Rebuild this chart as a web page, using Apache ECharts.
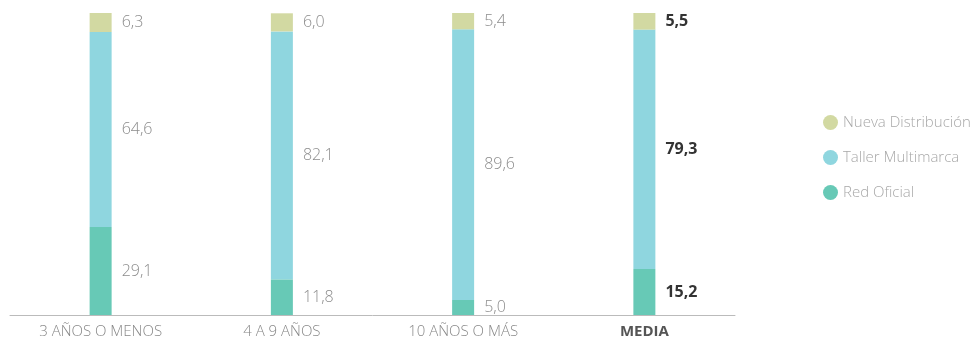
<!DOCTYPE html>
<html><head><meta charset="utf-8">
<script src="https://cdn.jsdelivr.net/npm/echarts@6/dist/echarts.min.js"></script>
<style>html,body{margin:0;padding:0;background:#fff}#c{width:980px;height:340px}</style>
</head><body><div id="c"></div>
<script>
const categories = ['3 AÑOS O MENOS', '4 A 9 AÑOS', '10 AÑOS O MÁS', 'MEDIA'];
const redOficial = [29.1, 11.8, 5.0, 15.2];
const tallerMultimarca = [64.6, 82.1, 89.6, 79.3];
const nuevaDistribucion = [6.3, 6.0, 5.4, 5.5];
const seriesNames = ['Red Oficial', 'Taller Multimarca', 'Nueva Distribución'];
const colors = ['#67c9b6', '#8fd6df', '#d2d9a2'];
const FONT = 'Open Sans';

function mk(vals, i) {
  return {
    name: seriesNames[i], type: 'bar', stack: 't', barWidth: 22,
    itemStyle: { color: colors[i] },
    data: vals.map((v, k) => ({
      value: v,
      label: k === 3 ? { color: '#333', fontWeight: 'bold' } : {}
    })),
    label: {
      show: true, position: 'right', distance: 10,
      color: '#8c8c8c', fontSize: 16, fontFamily: FONT, fontWeight: 300,
      formatter: p => p.value.toFixed(1).replace('.', ',')
    }
  };
}

const chart = echarts.init(document.getElementById('c'));
chart.setOption({
  animation: false,
  grid: { left: 10, right: 245, top: 13, bottom: 25 },
  legend: {
    orient: 'vertical', left: 818, top: 110, itemGap: 20,
    icon: 'circle', itemWidth: 15, itemHeight: 15,
    data: ['Nueva Distribución', 'Taller Multimarca', 'Red Oficial'],
    textStyle: { color: '#a8a8a8', fontSize: 15, fontFamily: FONT, fontWeight: 300 }
  },
  xAxis: {
    type: 'category', data: categories,
    axisLine: { lineStyle: { color: '#bbb' } },
    axisTick: { show: false },
    axisLabel: {
      margin: 9, fontSize: 15, fontFamily: FONT, fontWeight: 300, color: '#888',
      formatter: v => v === 'MEDIA' ? '{b|' + v + '}' : v,
      rich: { b: { fontSize: 15, fontFamily: FONT, fontWeight: 'bold', color: '#555' } }
    }
  },
  yAxis: { type: 'value', min: 0, max: 100, show: false, splitLine: { show: false } },
  series: [mk(redOficial, 0), mk(tallerMultimarca, 1), mk(nuevaDistribucion, 2)]
});
</script></body></html>
